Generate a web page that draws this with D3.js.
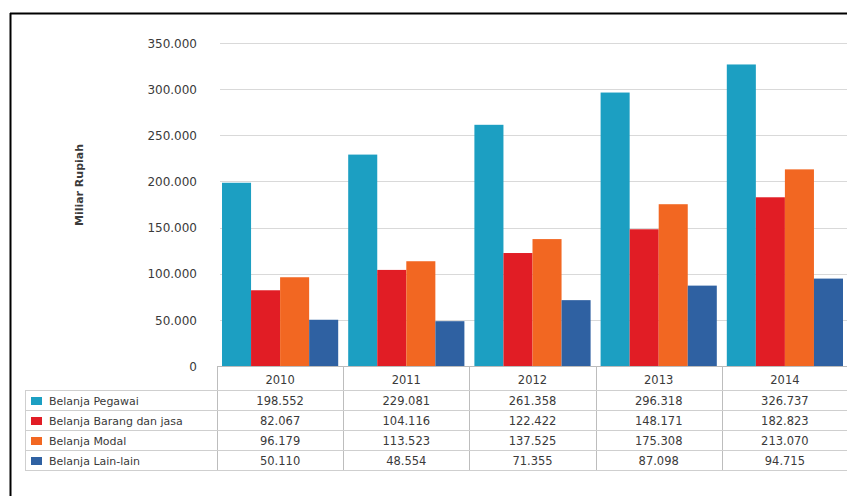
<!DOCTYPE html>
<html><head><meta charset="utf-8">
<script src="https://cdn.jsdelivr.net/npm/d3@7"></script>
<style>
html,body{margin:0;padding:0;background:#fff;}
svg{display:block;}
text{font-family:"DejaVu Sans",sans-serif;fill:#3a3a3a;}
</style></head>
<body><svg id="c" width="847" height="496"></svg>
<script>
const years = ["2010","2011","2012","2013","2014"];
const seriesNames = ["Belanja Pegawai","Belanja Barang dan jasa","Belanja Modal","Belanja Lain-lain"];
const pegawai = [198552, 229081, 261358, 296318, 326737];
const barang  = [82067, 104116, 122422, 148171, 182823];
const modal   = [96179, 113523, 137525, 175308, 213070];
const lain    = [50110, 48554, 71355, 87098, 94715];
const yTicks  = [0, 50000, 100000, 150000, 200000, 250000, 300000, 350000];
const colors  = ["#1c9fc2","#e11d25","#f26722","#2f61a2"];
const yTitle  = "Miliar Rupiah";

(function(){
const series = [pegawai, barang, modal, lain];
const loc = d3.formatLocale({decimal:",", thousands:".", grouping:[3], currency:["Rp",""]});
const fmt = loc.format(",d");

const svg = d3.select("#c");
// frame
svg.append("line").attr("x1",10).attr("x2",847).attr("y1",13.5).attr("y2",13.5).attr("stroke","#000").attr("stroke-width",2);
svg.append("line").attr("x1",10.5).attr("x2",10.5).attr("y1",13).attr("y2",496).attr("stroke","#000").attr("stroke-width",2);

const pLeft = 217, pRight = 848, pTop = 43, pBottom = 366;
const x0 = d3.scaleBand().domain(years).range([pLeft, pRight]).paddingInner(0).paddingOuter(0);
const x1 = d3.scaleBand().domain(d3.range(series.length)).range([5, x0.bandwidth()-5]).padding(0);
const y = d3.scaleLinear().domain([0, 350000]).range([pBottom, pTop]);

// grid
svg.append("g").selectAll("line").data(yTicks.slice(1)).join("line")
  .attr("x1", pLeft+3).attr("x2", pRight)
  .attr("y1", d=>Math.round(y(d))+0.5).attr("y2", d=>Math.round(y(d))+0.5)
  .attr("stroke","#d9d9d9").attr("stroke-width",1);

// y axis labels
const ya = svg.append("g").attr("transform",`translate(${pLeft-20},0)`)
  .call(d3.axisLeft(y).tickValues(yTicks).tickFormat(fmt).tickSize(0).tickPadding(0));
ya.select(".domain").remove();
ya.selectAll("text").style("font-size","12px").attr("fill","#3a3a3a").attr("dy","0.35em");

// y title
svg.append("text").attr("transform",`translate(79,185) rotate(-90)`)
  .attr("text-anchor","middle").attr("dy","0.35em")
  .style("font-size","11px").style("font-weight","bold").attr("fill","#333").text(yTitle);

// bars
const g = svg.append("g");
years.forEach((yr,i)=>{
  series.forEach((s,j)=>{
    g.append("rect")
      .attr("x", x0(yr)+x1(j)).attr("width", x1.bandwidth())
      .attr("y", y(s[i])).attr("height", y(0)-y(s[i]))
      .attr("fill", colors[j]);
  });
});

// x axis line
svg.append("line").attr("x1",pLeft).attr("x2",pRight).attr("y1",pBottom+0.5).attr("y2",pBottom+0.5).attr("stroke","#bbb");

// table
const rowTop = 390, rowH = 20, tableLeft = 25;
const tblBottom = rowTop + rowH*series.length;
svg.append("g").selectAll("line").data(years.map(d=>x0(d))).join("line")
  .attr("x1",d=>Math.round(d)+0.5).attr("x2",d=>Math.round(d)+0.5)
  .attr("y1",pBottom).attr("y2",tblBottom).attr("stroke","#bdbdbd");
svg.append("line").attr("x1",tableLeft+0.5).attr("x2",tableLeft+0.5).attr("y1",rowTop).attr("y2",tblBottom).attr("stroke","#cfcfcf");
svg.append("g").selectAll("line").data(d3.range(series.length+1)).join("line")
  .attr("x1",tableLeft).attr("x2",pRight)
  .attr("y1",d=>rowTop+d*rowH+0.5).attr("y2",d=>rowTop+d*rowH+0.5)
  .attr("stroke","#cfcfcf");

svg.append("g").selectAll("text").data(years).join("text")
  .attr("x",d=>x0(d)+x0.bandwidth()/2).attr("y",(pBottom+rowTop)/2+2)
  .attr("text-anchor","middle").attr("dy","0.35em").style("font-size","11.5px").text(d=>d);

series.forEach((s,j)=>{
  const cy = rowTop + j*rowH + rowH/2 + 1;
  svg.append("rect").attr("x",31).attr("y",cy-4).attr("width",11).attr("height",8).attr("fill",colors[j]);
  svg.append("text").attr("x",49).attr("y",cy).attr("dy","0.35em").style("font-size","11px").text(seriesNames[j]);
  years.forEach((yr,i)=>{
    svg.append("text").attr("x",x0(yr)+x0.bandwidth()/2).attr("y",cy).attr("dy","0.35em")
      .attr("text-anchor","middle").style("font-size","11.5px").text(fmt(s[i]));
  });
});
})();
</script></body></html>
